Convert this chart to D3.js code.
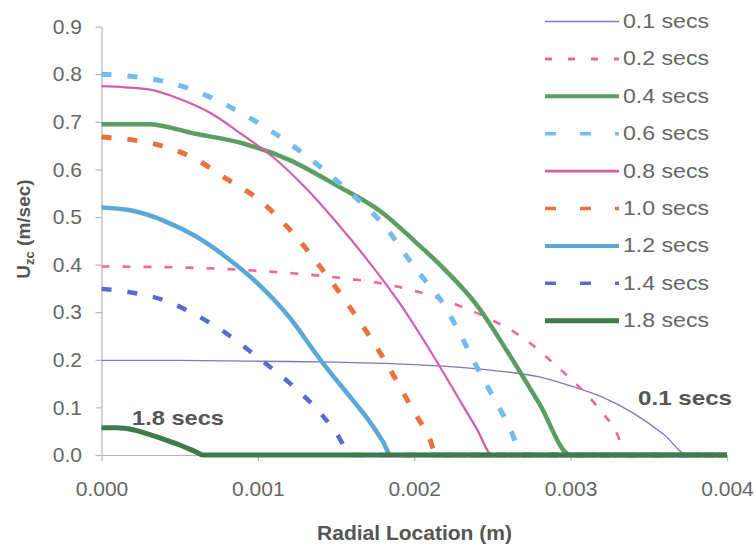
<!DOCTYPE html>
<html>
<head>
<meta charset="utf-8">
<script src="https://cdn.jsdelivr.net/npm/d3@7/dist/d3.min.js"></script>
<style>
  html, body { margin: 0; padding: 0; background: #fff; }
  svg { display: block; font-family: "Liberation Sans", Arial, sans-serif; }
</style>
</head>
<body>
<svg id="chart" width="756" height="546"></svg>
<script>
// ---- data (radial location in m, axial velocity in m/s) ----
const s01 = [[0,0.199],[0.0005,0.199],[0.001,0.197],[0.0015,0.195],[0.002,0.19],[0.0025,0.178],[0.0028,0.164],[0.003,0.145],[0.0032,0.122],[0.0034,0.088],[0.0036,0.042],[0.00375,0],[0.004,0]];
const s02 = [[0,0.396],[0.0005,0.394],[0.001,0.387],[0.0015,0.373],[0.0018,0.36],[0.002,0.345],[0.0023,0.312],[0.0025,0.283],[0.0027,0.245],[0.0029,0.19],[0.003,0.16],[0.0031,0.128],[0.0032,0.09],[0.0033,0.042],[0.00335,0],[0.004,0]];
const s04 = [[0,0.695],[0.0003,0.695],[0.0006,0.675],[0.0009,0.655],[0.0012,0.62],[0.0015,0.567],[0.0018,0.508],[0.002,0.45],[0.0022,0.388],[0.0024,0.315],[0.0026,0.215],[0.0028,0.108],[0.003,0],[0.004,0]];
const s06 = [[0,0.8],[0.0002,0.795],[0.0004,0.785],[0.0006,0.765],[0.0008,0.735],[0.001,0.698],[0.0012,0.655],[0.0014,0.605],[0.0016,0.548],[0.0018,0.485],[0.002,0.395],[0.0022,0.31],[0.0023,0.25],[0.0024,0.185],[0.0025,0.125],[0.0026,0.065],[0.0027,0],[0.004,0]];
const s08 = [[0,0.775],[0.0003,0.768],[0.0005,0.748],[0.0007,0.718],[0.0009,0.673],[0.0011,0.625],[0.0013,0.563],[0.0015,0.49],[0.0017,0.41],[0.0019,0.322],[0.0021,0.22],[0.0023,0.11],[0.0024,0.055],[0.0025,0],[0.004,0]];
const s10 = [[0,0.668],[0.0002,0.662],[0.0004,0.648],[0.0006,0.622],[0.0008,0.58],[0.001,0.538],[0.0012,0.475],[0.0014,0.395],[0.0016,0.305],[0.0018,0.205],[0.002,0.09],[0.0021,0.033],[0.00214,0],[0.004,0]];
const s12 = [[0,0.52],[0.0002,0.513],[0.0004,0.492],[0.0006,0.46],[0.0008,0.415],[0.001,0.36],[0.0012,0.29],[0.0014,0.2],[0.0016,0.118],[0.0017,0.077],[0.0018,0.028],[0.00185,0],[0.004,0]];
const s14 = [[0,0.349],[0.0002,0.341],[0.0004,0.325],[0.0006,0.295],[0.0008,0.255],[0.001,0.205],[0.0012,0.152],[0.0014,0.088],[0.0015,0.047],[0.0016,0],[0.004,0]];
const s18 = [[0,0.057],[0.0001,0.057],[0.0002,0.053],[0.0003,0.044],[0.0004,0.033],[0.0005,0.021],[0.0006,0.007],[0.00065,0],[0.004,0]];

const seriesNames = ["0.1 secs","0.2 secs","0.4 secs","0.6 secs","0.8 secs","1.0 secs","1.2 secs","1.4 secs","1.8 secs"];
const seriesData = [s01, s02, s04, s06, s08, s10, s12, s14, s18];
const xTicks = [0, 0.001, 0.002, 0.003, 0.004];
const yTicks = [0, 0.1, 0.2, 0.3, 0.4, 0.5, 0.6, 0.7, 0.8, 0.9];

// ---- styles ----
const styles = [
  {color:"#7c78c6", w:1.3, dash:null,    ldash:null,    lw:1.3},
  {color:"#ee6a92", w:2.6, dash:"8,13",  ldash:"7,16",  lw:3},
  {color:"#5a9e62", w:4.5, dash:null,    ldash:null,    lw:4},
  {color:"#72bcee", w:5,   dash:"10,16", ldash:"11,24", lw:3.5},
  {color:"#d45ea8", w:2.2, dash:null,    ldash:null,    lw:2.6},
  {color:"#e8733e", w:5,   dash:"10,16", ldash:"11,24", lw:3.5},
  {color:"#5aa8d8", w:4.5, dash:null,    ldash:null,    lw:4},
  {color:"#5a6ad2", w:4.5, dash:"10,16", ldash:"11,24", lw:3.5},
  {color:"#3f7a4b", w:5,   dash:null,    ldash:null,    lw:5}
];

const svg = d3.select("#chart");
const x = d3.scaleLinear().domain([0, 0.004]).range([101.5, 727]);
const y = d3.scaleLinear().domain([0, 0.9]).range([455, 26.6]);

// axes
const axisColor = "#b4b4b4";
const labelColor = "#666";

const yAxis = svg.append("g").attr("transform", `translate(${x(0)},0)`)
  .call(d3.axisLeft(y).tickValues(yTicks).tickFormat(d3.format(".1f")).tickSize(6).tickSizeOuter(0).tickPadding(13.5));
const xAxis = svg.append("g").attr("transform", `translate(0,${y(0)})`)
  .call(d3.axisBottom(x).tickValues(xTicks).tickFormat(d3.format(".3f")).tickSize(6).tickSizeOuter(0).tickPadding(20));

[yAxis, xAxis].forEach(g => {
  g.select(".domain").attr("stroke", axisColor).attr("stroke-width", 1.2);
  g.selectAll(".tick line").attr("stroke", axisColor).attr("stroke-width", 1.2);
  g.selectAll(".tick text").attr("fill", labelColor)
    .style("font-size", "21px").style("font-family", '"Liberation Sans", Arial, sans-serif');
});

// lines
const line = d3.line().x(d => x(d[0])).y(d => y(d[1])).curve(d3.curveMonotoneX);
const plot = svg.append("g");
seriesData.forEach((data, i) => {
  const st = styles[i];
  plot.append("path")
    .datum(data)
    .attr("d", line)
    .attr("fill", "none")
    .attr("stroke", st.color)
    .attr("stroke-width", st.w)
    .attr("stroke-dasharray", st.dash)
    .attr("stroke-linejoin", "round");
});

// legend
const legend = svg.append("g");
const lx0 = 545, lx1 = 619, ly0 = 21.5, lstep = 37.4;
seriesNames.forEach((name, i) => {
  const st = styles[i];
  const yy = ly0 + i * lstep;
  legend.append("line")
    .attr("x1", lx0).attr("x2", lx1).attr("y1", yy).attr("y2", yy)
    .attr("stroke", st.color).attr("stroke-width", st.lw)
    .attr("stroke-dasharray", st.ldash);
  legend.append("text")
    .attr("x", 623).attr("y", yy + 6.5)
    .attr("fill", labelColor)
    .style("font-size", "20px")
    .attr("textLength", 86).attr("lengthAdjust", "spacingAndGlyphs")
    .text(name);
});

// annotations
svg.append("text").attr("x", 132).attr("y", 425)
  .attr("fill", "#555").style("font-size", "21px").style("font-weight", "bold")
  .attr("textLength", 92).attr("lengthAdjust", "spacingAndGlyphs")
  .text(seriesNames[8]);
svg.append("text").attr("x", 638).attr("y", 405)
  .attr("fill", "#555").style("font-size", "21px").style("font-weight", "bold")
  .attr("textLength", 94).attr("lengthAdjust", "spacingAndGlyphs")
  .text(seriesNames[0]);

// axis titles
svg.append("text").attr("x", 414.5).attr("y", 540)
  .attr("text-anchor", "middle").attr("fill", "#555")
  .style("font-size", "21px").style("font-weight", "bold")
  .text("Radial Location (m)");

const yt = svg.append("text")
  .attr("transform", "translate(30,229) rotate(-90)")
  .attr("text-anchor", "middle").attr("fill", "#555")
  .style("font-size", "19px").style("font-weight", "bold");
yt.append("tspan").text("U");
yt.append("tspan").attr("dy", 4).style("font-size", "13px").text("zc");
yt.append("tspan").attr("dy", -4).text(" (m/sec)");
</script>
</body>
</html>
